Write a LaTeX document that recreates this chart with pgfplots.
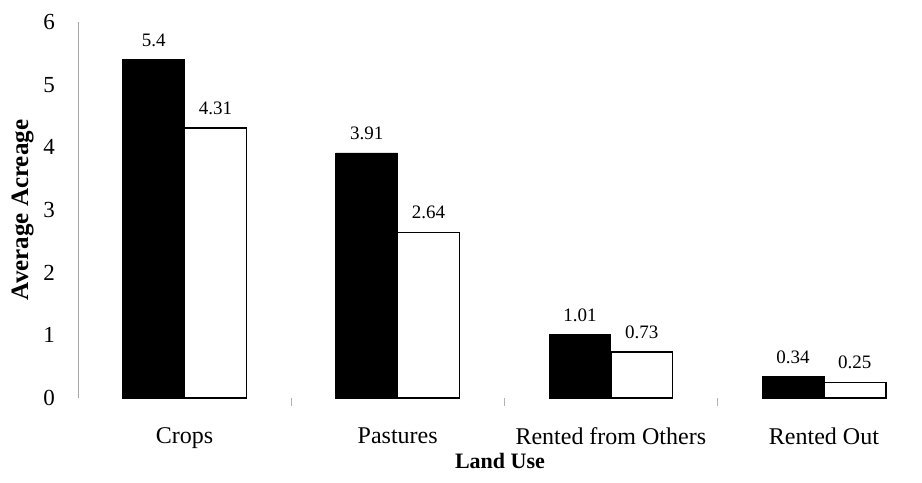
\documentclass[border=0pt]{standalone}
\usepackage{fontspec}
\setmainfont{Liberation Serif}
\usepackage{pgfplots}
\pgfplotsset{compat=1.18}
\begin{document}
\begin{tikzpicture}
\begin{axis}[
  scale only axis,
  width=422pt, height=188pt,
  xmin=-0.5, xmax=3.46,
  ymin=0, ymax=6,
  ytick={0,1,2,3,4,5,6},
  xtick={0,1,2,3},
  xticklabels={Crops,Pastures,Rented from Others,Rented Out},
  minor xtick={0.5,1.5,2.5},
  x axis line style={draw=none},
  axis x line*=bottom,
  axis y line*=left,
  y axis line style={draw=black!35, line width=0.4pt},
  major x tick style={draw=none},
  minor x tick style={draw=black!30, line width=0.4pt},
  minor tick length=4pt,
  xtick pos=bottom,
  major y tick style={draw=none},
  ticklabel style={font=\fontsize{11.5}{13}\selectfont},
  xticklabel style={font=\fontsize{12}{14}\selectfont, yshift=-7pt},
  yticklabel style={xshift=-8pt},
  /pgf/number format/assume math mode=true,
  xlabel={\textbf{Land Use}},
  ylabel={\textbf{Average Acreage}},
  xlabel style={font=\fontsize{11}{13}\selectfont, yshift=4.5pt},
  ylabel style={font=\fontsize{12.5}{14}\selectfont, yshift=-2pt},
  ybar, bar width=0.29,
  nodes near coords,
  nodes near coords style={font=\fontsize{9.5}{11}\selectfont, yshift=3pt},
  point meta=explicit symbolic,
  clip=false,
]
\addplot[fill=black, draw=black, bar shift=-0.145] coordinates {
  (0,5.4) [5.4] (1,3.91) [3.91] (2,1.01) [1.01] (3,0.34) [0.34]};
\addplot[fill=white, draw=black, line width=0.8pt, bar shift=0.145] coordinates {
  (0,4.31) [4.31] (1,2.64) [2.64] (2,0.73) [0.73] (3,0.25) [0.25]};
\end{axis}
\pgfresetboundingbox
\path ([shift={(-39pt,-42.5pt)}]current axis.south west) rectangle ([shift={(0pt,11pt)}]current axis.north east);
\end{tikzpicture}
\end{document}
